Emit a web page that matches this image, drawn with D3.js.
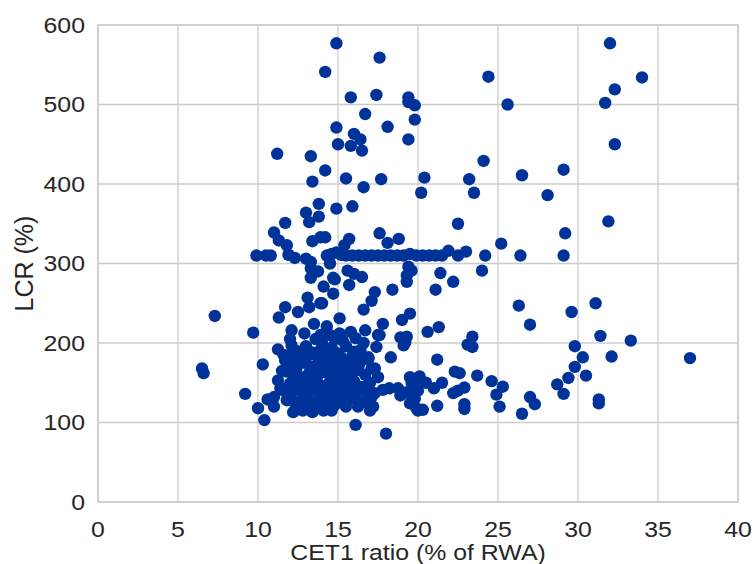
<!DOCTYPE html>
<html>
<head>
<meta charset="utf-8">
<script src="https://cdn.jsdelivr.net/npm/d3@7"></script>
<style>
  body { margin: 0; background: #ffffff; }
  svg text { font-family: "Liberation Sans", Arial, sans-serif; fill: #262626; }
</style>
</head>
<body>
<div id="chart"></div>
<script>
// CET1 ratio (% of RWA) for each bank
const cet1 = [
  14.9, 17.6, 14.2, 15.8, 17.4, 19.4, 19.4, 19.8, 16.7, 19.8, 14.9, 18.1, 16.0, 16.4, 19.4, 15.0, 15.8, 16.5, 11.2, 13.3,
  14.2, 13.4, 15.5, 17.7, 16.6, 20.2, 13.8, 14.9, 15.9, 13.0, 13.8, 13.2, 11.7, 11.0, 17.6, 11.3, 13.4, 13.9, 14.2, 15.7,
  18.1, 18.8, 11.8, 15.4,
  32.0, 24.4, 34.0, 32.3, 25.6, 31.7, 32.3, 24.1, 20.4, 23.2, 26.5, 29.1, 23.5, 28.1, 22.5, 31.9, 29.2, 25.2, 21.9, 23.0,
  22.5, 24.2, 26.4, 29.1,
  9.9, 10.5, 10.8, 11.9, 12.3, 13.0, 13.3, 14.3, 14.6, 14.9, 15.2, 15.5, 15.9, 16.3, 16.7, 17.1, 17.5, 17.9, 18.3, 18.7,
  19.1, 19.5, 19.9, 20.3, 20.7, 21.1, 21.5, 14.5,
  13.3, 13.75, 14.7, 15.6, 16.0, 16.5, 15.7, 14.1, 14.7, 14.8, 13.3, 19.4, 19.6, 19.3, 19.3, 21.4, 22.2, 24.0, 21.1, 18.4,
  17.3, 17.1, 16.6, 13.9, 13.1, 13.2, 11.7, 11.3, 12.5, 14.0, 15.1, 17.8, 19.0, 19.5,
  26.3, 27.0, 29.6, 31.1, 21.3, 20.6, 23.4, 23.1, 23.4, 31.4, 33.3, 37.0, 29.8, 30.3, 32.1, 21.2, 29.8, 22.3, 22.6, 23.7,
  30.5, 29.4, 20.1, 24.6, 28.7, 25.3, 21.5, 20.5, 22.9, 22.2, 22.5, 21.0, 19.7, 24.9, 29.1, 27.0, 27.3, 31.3, 31.3, 19.8,
  19.9, 20.3, 21.2, 22.9, 22.9, 25.1, 26.5,
  7.3, 9.7, 6.5, 6.6, 9.2, 10.3, 10.0, 10.4, 16.1, 18.0, 10.6,
  12.1, 13.5, 14.3, 12.9, 13.9, 14.5, 16.7, 17.5, 18.9, 19.2, 15.1, 15.8, 16.1, 17.4, 18.3, 16.4, 16.9, 17.3, 17.5, 19.5,
  20.1, 19.3, 18.75, 18.2, 17.8, 19.7, 20.0, 17.1, 17.2, 16.25, 15.5, 14.5, 14.8, 18.9, 19.5, 15.3, 17.6, 16.9, 17.1, 16.7,
  17.0, 19.3, 19.1, 20.0, 19.6,
  11.25, 12.1, 12.6, 11.7, 11.8, 11.25, 11.4, 11.0, 12.2, 12.8, 13.4, 14.1, 14.6, 11.0, 12.2, 13.0, 13.9, 14.5, 12.0, 12.8,
  13.65, 14.5, 15.1, 15.7, 16.35,
  11.9, 12.4, 12.9, 13.4, 13.8, 14.3, 14.8, 15.3, 15.8, 16.3,
  12.2, 12.7, 13.2, 13.7, 14.2, 14.7, 15.2, 15.7, 16.2, 16.7,
  11.6, 12.1, 12.6, 13.1, 13.6, 14.1, 14.6, 15.1, 15.6, 16.1,
  11.8, 12.3, 12.8, 13.3, 13.8, 14.3, 14.8, 15.3, 15.8, 16.4,
  12.4, 13.0, 13.4, 14.0, 14.6, 15.0, 15.5, 16.0, 15.2, 15.9,
  12.0, 13.6, 14.8, 16.6, 17.0, 17.3,
  13.0, 14.0, 15.4, 16.0, 12.5, 13.4, 14.9, 15.5, 12.0, 14.2,
  12.5, 13.2, 13.8, 14.6, 15.6, 16.5, 12.3, 13.8, 14.3, 15.0, 15.9, 16.8, 12.9, 13.6, 16.8, 11.5, 11.6
];

// LCR (%) for each bank, same order as cet1
const lcr = [
  577, 559, 541, 509, 512, 509, 503, 499, 488, 481, 471, 472, 463, 456, 456, 450, 448, 442, 438, 435,
  417, 403, 407, 406, 396, 389, 375, 369, 372, 364, 359, 352, 351, 339, 338, 329, 328, 333, 333, 331,
  326, 331, 323, 323,
  577, 535, 534, 519, 500, 502, 450, 429, 408, 406, 411, 418, 389, 386, 350, 353, 338, 325, 316, 315,
  310, 310, 310, 310,
  310, 310, 310, 311, 307, 306, 302, 310, 312, 314, 311, 310, 310, 310, 310, 310, 310, 310, 310, 310,
  310, 312, 310, 310, 310, 310, 310, 300,
  294, 290, 282, 291, 287, 283, 273, 271, 262, 280, 282, 296, 291, 285, 277, 288, 277, 291, 267, 267,
  264, 253, 242, 250, 257, 245, 245, 232, 239, 250, 231, 224, 229, 237,
  247, 223, 239, 250, 220, 214, 208, 198, 195, 209, 203, 181, 196, 182, 183, 179, 170, 164, 162, 159,
  159, 156, 158, 152, 148, 145, 150, 150, 144, 137, 140, 143, 145, 135, 136, 132, 123, 129, 124, 130,
  118, 116, 121, 123, 117, 120, 111,
  234, 213, 168, 162, 136, 173, 118, 103, 97, 86, 129,
  216, 224, 221, 212, 210, 210, 216, 210, 207, 201, 212, 214, 206, 195, 182, 191, 182, 168, 157, 157,
  155, 138, 143, 143, 141, 128, 115, 132, 120, 120, 120, 120, 122, 134, 124, 203, 210, 180, 168, 145,
  115, 208, 197, 140, 150,
  192, 197, 187, 178, 164, 153, 143, 120, 113, 115, 113, 115, 115, 132, 182, 182, 191, 182, 149, 145,
  151, 151, 149, 151, 145,
  172, 168, 175, 170, 178, 172, 176, 170, 178, 172,
  160, 157, 162, 158, 163, 159, 164, 160, 166, 160,
  140, 136, 141, 135, 140, 137, 142, 136, 141, 135,
  128, 125, 130, 124, 129, 126, 131, 127, 130, 126,
  190, 196, 188, 200, 194, 187, 196, 189, 182, 184,
  205, 205, 205, 200, 150, 137,
  146, 146, 146, 152, 150, 153, 155, 156, 185, 185,
  180, 185, 168, 168, 168, 178, 145, 147, 132, 128, 143, 138, 120, 118, 125, 165, 185
];

// Tick values on both axes
const xTicks = [0, 5, 10, 15, 20, 25, 30, 35, 40];
const yTicks = [0, 100, 200, 300, 400, 500, 600];

const xLabel = 'CET1 ratio (% of RWA)';
const yLabel = 'LCR (%)';

const width = 754;
const height = 564;
const margin = { top: 25, right: 16, bottom: 62, left: 98 };
const stretch = 1.13; // horizontal texts in the picture are a bit wide

const data = cet1.map((c, i) => ({ x: c, y: lcr[i] }));

const svg = d3.select('#chart').append('svg')
    .attr('width', width)
    .attr('height', height);

const x = d3.scaleLinear()
    .domain([0, 40])
    .range([margin.left, width - margin.right]);

const y = d3.scaleLinear()
    .domain([0, 600])
    .range([height - margin.bottom, margin.top]);

// grid lines
svg.append('g')
    .selectAll('line')
    .data(xTicks)
    .enter().append('line')
    .attr('x1', d => x(d)).attr('x2', d => x(d))
    .attr('y1', y(0)).attr('y2', y(600))
    .attr('stroke', '#cccccc')
    .attr('stroke-width', 1.3);

svg.append('g')
    .selectAll('line')
    .data(yTicks)
    .enter().append('line')
    .attr('x1', x(0)).attr('x2', x(40))
    .attr('y1', d => y(d)).attr('y2', d => y(d))
    .attr('stroke', '#cccccc')
    .attr('stroke-width', 1.3);

// frame around the plot
svg.append('rect')
    .attr('x', x(0))
    .attr('y', y(600))
    .attr('width', x(40) - x(0))
    .attr('height', y(0) - y(600))
    .attr('fill', 'none')
    .attr('stroke', '#cccccc')
    .attr('stroke-width', 1.5);

// tick labels
svg.append('g')
    .selectAll('text')
    .data(xTicks)
    .enter().append('text')
    .attr('transform', d => `translate(${x(d)}, 537) scale(${stretch}, 1)`)
    .attr('text-anchor', 'middle')
    .style('font-size', '22px')
    .text(d => d);

svg.append('g')
    .selectAll('text')
    .data(yTicks)
    .enter().append('text')
    .attr('transform', d => `translate(85, ${y(d)}) scale(${stretch}, 1)`)
    .attr('dy', '0.36em')
    .attr('text-anchor', 'end')
    .style('font-size', '22px')
    .text(d => d);

// axis titles
svg.append('text')
    .attr('transform', `translate(${(x(0) + x(40)) / 2}, 560) scale(${stretch}, 1)`)
    .attr('text-anchor', 'middle')
    .style('font-size', '22px')
    .text(xLabel);

svg.append('text')
    .attr('transform', `translate(33, ${(y(0) + y(600)) / 2}) rotate(-90)`)
    .attr('text-anchor', 'middle')
    .style('font-size', '25px')
    .text(yLabel);

// the banks
svg.append('g')
    .selectAll('circle')
    .data(data)
    .enter().append('circle')
    .attr('cx', d => x(d.x))
    .attr('cy', d => y(d.y))
    .attr('r', 6.2)
    .attr('fill', '#003399');
</script>
</body>
</html>
